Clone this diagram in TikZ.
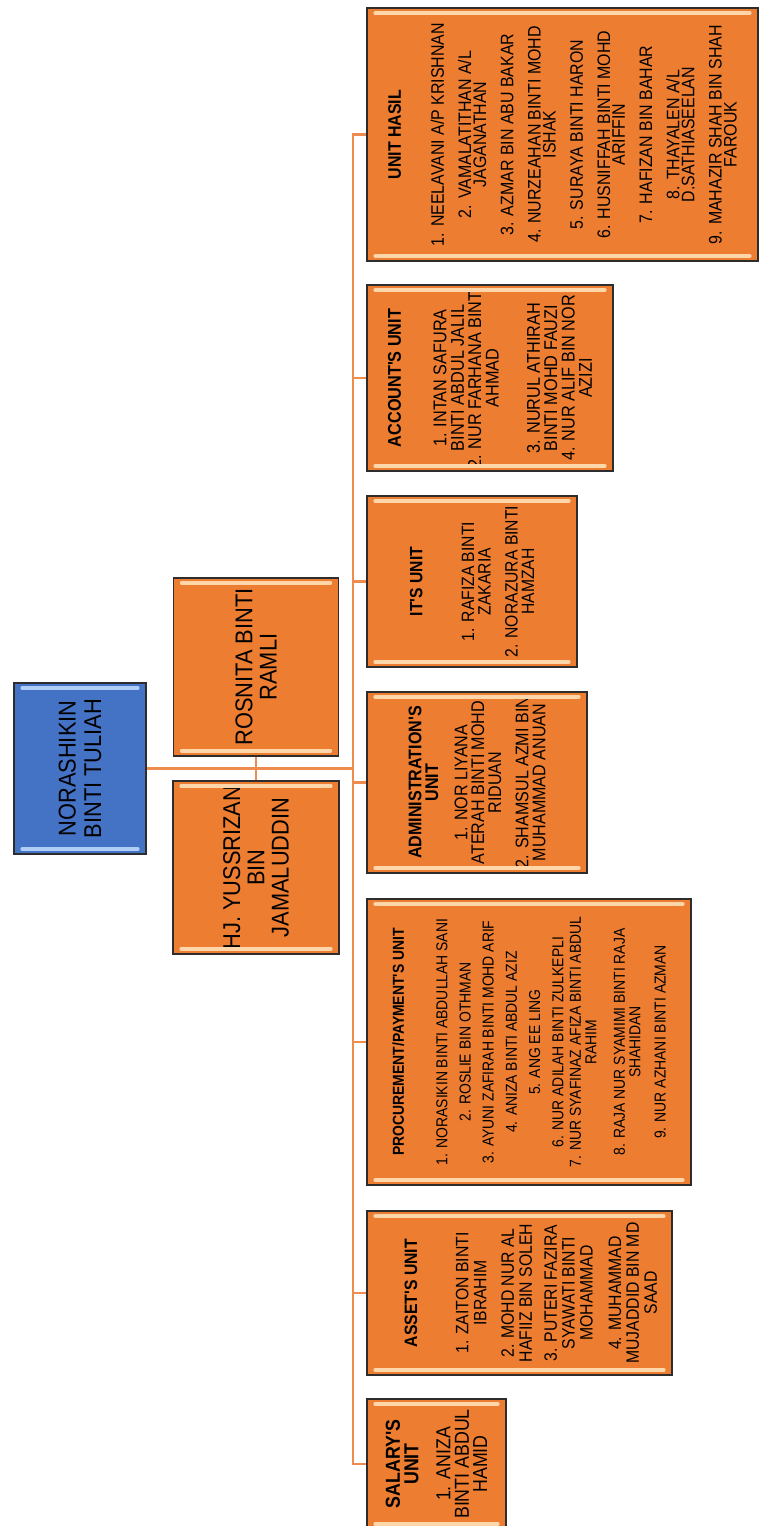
\documentclass[tikz,border=0pt]{standalone}
\usepackage{fontspec}
\setmainfont{Liberation Sans}
\newfontfamily\topfont[FakeStretch=0.9]{Liberation Sans}
\newfontfamily\unitfont[FakeStretch=0.88]{Liberation Sans}
\usetikzlibrary{calc}
\definecolor{boxorange}{RGB}{237,125,49}
\definecolor{boxblue}{RGB}{68,114,196}
\definecolor{hiorange}{RGB}{253,214,170}
\definecolor{hiblue}{RGB}{175,205,245}
\definecolor{linkorange}{RGB}{238,140,80}
\definecolor{rim}{RGB}{45,45,45}

\begin{document}
\begin{tikzpicture}[x=0.02cm, y=-0.02cm,
        box/.style={draw=rim, line width=1pt, rotate=90, align=center, inner sep=0pt},
        head/.style={box, fill=boxblue, font=\topfont\fontsize{13.8}{14.5}\selectfont},
        asst/.style={box, fill=boxorange, font=\topfont\fontsize{13.8}{13.8}\selectfont},
        unit/.style={box, fill=boxorange},
        link/.style={draw=linkorange, line width=1.3pt},
        bevel/.style={line width=2pt, line cap=round}
    ]
        \useasboundingbox (0,0) rectangle (759,1526);

        % Head and assistants (minimum width runs along the text, i.e. up the page)
        \node[head, minimum height=2.64cm, minimum width=3.42cm] (ceo) at (80,768.5) {NORASHIKIN\\BINTI TULIAH};
        \node[asst, minimum height=3.30cm, minimum width=3.56cm] (rosnita) at (256,667) {ROSNITA BINTI\\RAMLI};
        \node[asst, minimum height=3.32cm, minimum width=3.46cm] (yussrizan) at (256,867.5) {HJ. YUSSRIZAN\\BIN\\JAMALUDDIN};

        % Units
        \node[unit, minimum height=7.82cm, minimum width=5.06cm, font=\unitfont\fontsize{10.3}{8.5}\selectfont] (hasil) at (562.5,134.5) {\textbf{UNIT HASIL}\\[16pt]
            1. NEELAVANI A/P KRISHNAN\\[7pt]
            2. VAMALATITHAN A/L\\JAGANATHAN\\[7pt]
            3. AZMAR BIN ABU BAKAR\\[7pt]
            4. NURZEAHAN BINTI MOHD\\ISHAK\\[7pt]
            5. SURAYA BINTI HARON\\[7pt]
            6. HUSNIFFAH BINTI MOHD\\ARIFFIN\\[7pt]
            7. HAFIZAN BIN BAHAR\\[7pt]
            8. THAYALEN A/L\\D.SATHIASEELAN\\[7pt]
            9. MAHAZIR SHAH BIN SHAH\\FAROUK};
        \node[unit, minimum height=4.92cm, minimum width=3.72cm, font=\unitfont\fontsize{10.5}{9.9}\selectfont] (account) at (490,378) {\textbf{ACCOUNT'S UNIT}\\[16pt]
            1. INTAN SAFURA\\BINTI ABDUL JALIL\\
            2. NUR FARHANA BINTI\\AHMAD\\[13.5pt]
            3. NURUL ATHIRAH\\BINTI MOHD FAUZI\\
            4. NUR ALIF BIN NOR\\AZIZI};
        \node[unit, minimum height=4.20cm, minimum width=3.42cm, font=\unitfont\fontsize{10.15}{9.4}\selectfont] (it) at (472,581.5) {\textbf{IT'S UNIT}\\[20pt]
            1. RAFIZA BINTI\\ZAKARIA\\[6pt]
            2. NORAZURA BINTI\\HAMZAH};
        \node[unit, minimum height=4.40cm, minimum width=3.62cm, font=\unitfont\fontsize{10.4}{9.6}\selectfont] (admin) at (477,782.5) {\textbf{ADMINISTRATION'S}\\\textbf{UNIT}\\[7pt]
            1. NOR LIYANA\\ATERAH BINTI MOHD\\RIDUAN\\[6pt]
            2. SHAMSUL AZMI BIN\\MUHAMMAD ANUAN};
        \node[unit, minimum height=6.48cm, minimum width=5.72cm, font=\unitfont\fontsize{9}{8.8}\selectfont] (procure) at (529,1042) {\textbf{PROCUREMENT/PAYMENT'S UNIT}\\[16pt]
            1. NORASIKIN BINTI ABDULLAH SANI\\[4.4pt]
            2. ROSLIE BIN OTHMAN\\[4.4pt]
            3. AYUNI ZAFIRAH BINTI MOHD ARIF\\[4.4pt]
            4. ANIZA BINTI ABDUL AZIZ\\[4.4pt]
            5. ANG EE LING\\[4.4pt]
            6. NUR ADILAH BINTI ZULKEPLI\\[1.2pt]
            7. NUR SYAFINAZ AFIZA BINTI ABDUL\\RAHIM\\[7.5pt]
            8. RAJA NUR SYAMIMI BINTI RAJA\\SHAHIDAN\\[5.5pt]
            9. NUR AZHANI BINTI AZMAN};
        \node[unit, minimum height=6.10cm, minimum width=3.28cm, font=\unitfont\fontsize{10.2}{10.2}\selectfont] (asset) at (519.5,1293) {\rule{0pt}{20pt}\textbf{ASSET'S UNIT}\\[19pt]
            1. ZAITON BINTI\\IBRAHIM\\[5.5pt]
            2. MOHD NUR AL\\HAFIIZ BIN SOLEH\\[4pt]
            3. PUTERI FAZIRA\\SYAWATI BINTI\\MOHAMMAD\\[6pt]
            4. MUHAMMAD\\MUJADDID BIN MD\\SAAD};
        \node[unit, minimum height=2.78cm, minimum width=2.60cm, font=\unitfont\fontsize{11.5}{10.5}\selectfont] (salary) at (436.5,1464) {\textbf{SALARY'S}\\\textbf{UNIT}\\[7.7pt]
            1. ANIZA\\BINTI ABDUL\\HAMID};

        % Bevel highlights
        \foreach \b/\c in {ceo/hiblue, rosnita/hiorange, yussrizan/hiorange, hasil/hiorange, account/hiorange,
                it/hiorange, admin/hiorange, procure/hiorange, asset/hiorange, salary/hiorange} {
            \draw[bevel, draw=\c] ($(\b.north east)+(9,6)$) -- ($(\b.south east)+(-9,6)$);
            \draw[bevel, draw=\c] ($(\b.north west)+(9,-6)$) -- ($(\b.south west)+(-9,-6)$);
        }

        % Connectors
        \coordinate (bus) at (353,768.5);
        \draw[link] (ceo.south) -- (bus);
        \draw[link] (rosnita.west) -- (yussrizan.east);
        \foreach \u in {hasil, account, it, admin, procure, asset, salary}
            \draw[link] (bus) |- (\u.north);

    \end{tikzpicture}
\end{document}
